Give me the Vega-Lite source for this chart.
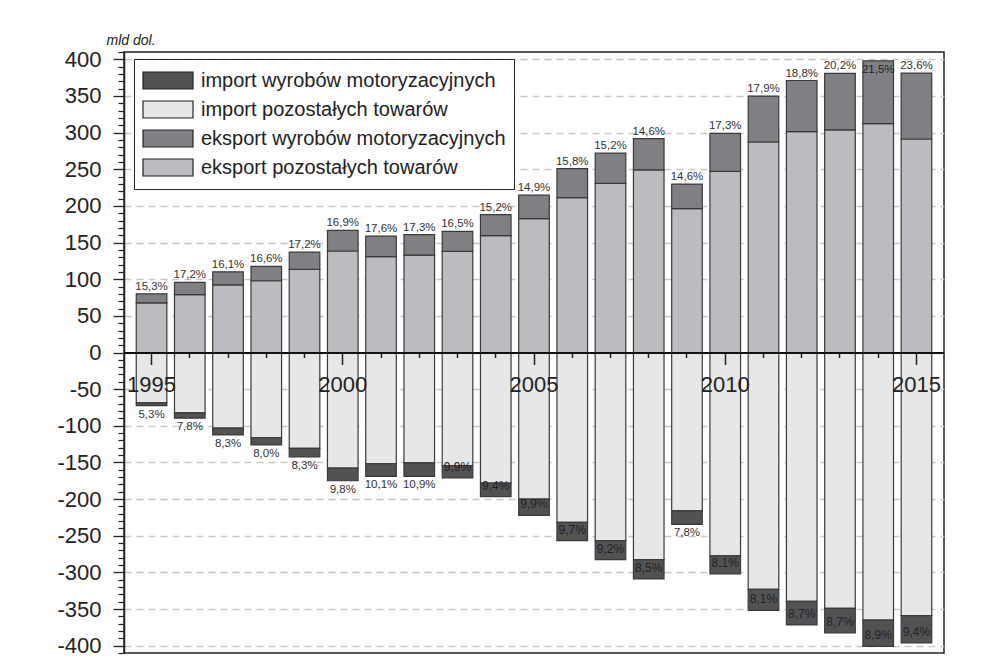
{
  "$schema": "https://vega.github.io/schema/vega-lite/v6.json",
  "width": 820,
  "height": 601,
  "autosize": "none",
  "padding": {"left": 124, "top": 52, "right": 39, "bottom": 19},
  "background": "white",
  "config": {
    "font": "Liberation Sans",
    "view": {"stroke": "#222", "strokeWidth": 1.5}
  },
  "data": {"name": "bars"},
  "datasets": {
    "bars": [
      {"year":1995,"side":"eksport","category":"eksport pozostałych towarów","value":67.8,"pct":""},
      {"year":1995,"side":"eksport","category":"eksport wyrobów motoryzacyjnych","value":12.3,"pct":"15,3%"},
      {"year":1995,"side":"import","category":"import pozostałych towarów","value":-68.6,"pct":""},
      {"year":1995,"side":"import","category":"import wyrobów motoryzacyjnych","value":-3.9,"pct":"5,3%"},
      {"year":1996,"side":"eksport","category":"eksport pozostałych towarów","value":79.1,"pct":""},
      {"year":1996,"side":"eksport","category":"eksport wyrobów motoryzacyjnych","value":16.5,"pct":"17,2%"},
      {"year":1996,"side":"import","category":"import pozostałych towarów","value":-82.5,"pct":""},
      {"year":1996,"side":"import","category":"import wyrobów motoryzacyjnych","value":-7.0,"pct":"7,8%"},
      {"year":1997,"side":"eksport","category":"eksport pozostałych towarów","value":92.4,"pct":""},
      {"year":1997,"side":"eksport","category":"eksport wyrobów motoryzacyjnych","value":17.7,"pct":"16,1%"},
      {"year":1997,"side":"import","category":"import pozostałych towarów","value":-103.2,"pct":""},
      {"year":1997,"side":"import","category":"import wyrobów motoryzacyjnych","value":-9.3,"pct":"8,3%"},
      {"year":1998,"side":"eksport","category":"eksport pozostałych towarów","value":97.9,"pct":""},
      {"year":1998,"side":"eksport","category":"eksport wyrobów motoryzacyjnych","value":19.5,"pct":"16,6%"},
      {"year":1998,"side":"import","category":"import pozostałych towarów","value":-116.0,"pct":""},
      {"year":1998,"side":"import","category":"import wyrobów motoryzacyjnych","value":-10.1,"pct":"8,0%"},
      {"year":1999,"side":"eksport","category":"eksport pozostałych towarów","value":113.4,"pct":""},
      {"year":1999,"side":"eksport","category":"eksport wyrobów motoryzacyjnych","value":23.6,"pct":"17,2%"},
      {"year":1999,"side":"import","category":"import pozostałych towarów","value":-130.7,"pct":""},
      {"year":1999,"side":"import","category":"import wyrobów motoryzacyjnych","value":-11.8,"pct":"8,3%"},
      {"year":2000,"side":"eksport","category":"eksport pozostałych towarów","value":138.5,"pct":""},
      {"year":2000,"side":"eksport","category":"eksport wyrobów motoryzacyjnych","value":28.1,"pct":"16,9%"},
      {"year":2000,"side":"import","category":"import pozostałych towarów","value":-157.8,"pct":""},
      {"year":2000,"side":"import","category":"import wyrobów motoryzacyjnych","value":-17.2,"pct":"9,8%"},
      {"year":2001,"side":"eksport","category":"eksport pozostałych towarów","value":130.8,"pct":""},
      {"year":2001,"side":"eksport","category":"eksport wyrobów motoryzacyjnych","value":28.0,"pct":"17,6%"},
      {"year":2001,"side":"import","category":"import pozostałych towarów","value":-151.8,"pct":""},
      {"year":2001,"side":"import","category":"import wyrobów motoryzacyjnych","value":-17.1,"pct":"10,1%"},
      {"year":2002,"side":"eksport","category":"eksport pozostałych towarów","value":132.9,"pct":""},
      {"year":2002,"side":"eksport","category":"eksport wyrobów motoryzacyjnych","value":27.8,"pct":"17,3%"},
      {"year":2002,"side":"import","category":"import pozostałych towarów","value":-150.5,"pct":""},
      {"year":2002,"side":"import","category":"import wyrobów motoryzacyjnych","value":-18.4,"pct":"10,9%"},
      {"year":2003,"side":"eksport","category":"eksport pozostałych towarów","value":137.9,"pct":""},
      {"year":2003,"side":"eksport","category":"eksport wyrobów motoryzacyjnych","value":27.3,"pct":"16,5%"},
      {"year":2003,"side":"import","category":"import pozostałych towarów","value":-154.2,"pct":""},
      {"year":2003,"side":"import","category":"import wyrobów motoryzacyjnych","value":-16.9,"pct":"9,9%"},
      {"year":2004,"side":"eksport","category":"eksport pozostałych towarów","value":159.4,"pct":""},
      {"year":2004,"side":"eksport","category":"eksport wyrobów motoryzacyjnych","value":28.6,"pct":"15,2%"},
      {"year":2004,"side":"import","category":"import pozostałych towarów","value":-178.1,"pct":""},
      {"year":2004,"side":"import","category":"import wyrobów motoryzacyjnych","value":-18.5,"pct":"9,4%"},
      {"year":2005,"side":"eksport","category":"eksport pozostałych towarów","value":182.7,"pct":""},
      {"year":2005,"side":"eksport","category":"eksport wyrobów motoryzacyjnych","value":32.0,"pct":"14,9%"},
      {"year":2005,"side":"import","category":"import pozostałych towarów","value":-200.1,"pct":""},
      {"year":2005,"side":"import","category":"import wyrobów motoryzacyjnych","value":-22.0,"pct":"9,9%"},
      {"year":2006,"side":"eksport","category":"eksport pozostałych towarów","value":211.2,"pct":""},
      {"year":2006,"side":"eksport","category":"eksport wyrobów motoryzacyjnych","value":39.6,"pct":"15,8%"},
      {"year":2006,"side":"import","category":"import pozostałych towarów","value":-231.8,"pct":""},
      {"year":2006,"side":"import","category":"import wyrobów motoryzacyjnych","value":-24.9,"pct":"9,7%"},
      {"year":2007,"side":"eksport","category":"eksport pozostałych towarów","value":230.8,"pct":""},
      {"year":2007,"side":"eksport","category":"eksport wyrobów motoryzacyjnych","value":41.3,"pct":"15,2%"},
      {"year":2007,"side":"import","category":"import pozostałych towarów","value":-256.6,"pct":""},
      {"year":2007,"side":"import","category":"import wyrobów motoryzacyjnych","value":-26.0,"pct":"9,2%"},
      {"year":2008,"side":"eksport","category":"eksport pozostałych towarów","value":249.1,"pct":""},
      {"year":2008,"side":"eksport","category":"eksport wyrobów motoryzacyjnych","value":42.6,"pct":"14,6%"},
      {"year":2008,"side":"import","category":"import pozostałych towarów","value":-282.6,"pct":""},
      {"year":2008,"side":"import","category":"import wyrobów motoryzacyjnych","value":-26.3,"pct":"8,5%"},
      {"year":2009,"side":"eksport","category":"eksport pozostałych towarów","value":196.3,"pct":""},
      {"year":2009,"side":"eksport","category":"eksport wyrobów motoryzacyjnych","value":33.5,"pct":"14,6%"},
      {"year":2009,"side":"import","category":"import pozostałych towarów","value":-216.1,"pct":""},
      {"year":2009,"side":"import","category":"import wyrobów motoryzacyjnych","value":-18.3,"pct":"7,8%"},
      {"year":2010,"side":"eksport","category":"eksport pozostałych towarów","value":247.2,"pct":""},
      {"year":2010,"side":"eksport","category":"eksport wyrobów motoryzacyjnych","value":51.8,"pct":"17,3%"},
      {"year":2010,"side":"import","category":"import pozostałych towarów","value":-277.6,"pct":""},
      {"year":2010,"side":"import","category":"import wyrobów motoryzacyjnych","value":-24.5,"pct":"8,1%"},
      {"year":2011,"side":"eksport","category":"eksport pozostałych towarów","value":287.2,"pct":""},
      {"year":2011,"side":"eksport","category":"eksport wyrobów motoryzacyjnych","value":62.6,"pct":"17,9%"},
      {"year":2011,"side":"import","category":"import pozostałych towarów","value":-323.3,"pct":""},
      {"year":2011,"side":"import","category":"import wyrobów motoryzacyjnych","value":-28.5,"pct":"8,1%"},
      {"year":2012,"side":"eksport","category":"eksport pozostałych towarów","value":301.4,"pct":""},
      {"year":2012,"side":"eksport","category":"eksport wyrobów motoryzacyjnych","value":69.7,"pct":"18,8%"},
      {"year":2012,"side":"import","category":"import pozostałych towarów","value":-339.4,"pct":""},
      {"year":2012,"side":"import","category":"import wyrobów motoryzacyjnych","value":-32.3,"pct":"8,7%"},
      {"year":2013,"side":"eksport","category":"eksport pozostałych towarów","value":303.8,"pct":""},
      {"year":2013,"side":"eksport","category":"eksport wyrobów motoryzacyjnych","value":76.9,"pct":"20,2%"},
      {"year":2013,"side":"import","category":"import pozostałych towarów","value":-349.2,"pct":""},
      {"year":2013,"side":"import","category":"import wyrobów motoryzacyjnych","value":-33.3,"pct":"8,7%"},
      {"year":2014,"side":"eksport","category":"eksport pozostałych towarów","value":312.4,"pct":""},
      {"year":2014,"side":"eksport","category":"eksport wyrobów motoryzacyjnych","value":85.6,"pct":"21,5%"},
      {"year":2014,"side":"import","category":"import pozostałych towarów","value":-365.2,"pct":""},
      {"year":2014,"side":"import","category":"import wyrobów motoryzacyjnych","value":-35.7,"pct":"8,9%"},
      {"year":2015,"side":"eksport","category":"eksport pozostałych towarów","value":291.3,"pct":""},
      {"year":2015,"side":"eksport","category":"eksport wyrobów motoryzacyjnych","value":90.0,"pct":"23,6%"},
      {"year":2015,"side":"import","category":"import pozostałych towarów","value":-359.0,"pct":""},
      {"year":2015,"side":"import","category":"import wyrobów motoryzacyjnych","value":-37.3,"pct":"9,4%"}
    ]
  },
  "encoding": {
    "x": {
      "field": "year",
      "type": "ordinal",
      "scale": {"paddingInner": 0.2, "paddingOuter": 0.32},
      "axis": {
        "orient": "bottom",
        "offset": -300.5,
        "title": null,
        "zindex": 1,
        "domainColor": "#111",
        "domainWidth": 2,
        "tickColor": "#222",
        "tickWidth": 1.5,
        "tickSize": {"condition": {"test": "datum.value % 5 === 0", "value": 12}, "value": 5},
        "labelExpr": "datum.value % 5 === 0 ? datum.label : ''",
        "labelAngle": 0,
        "labelFontSize": 22,
        "labelColor": "#222",
        "labelPadding": 10,
        "labelOverlap": false,
        "labelFlush": false,
        "grid": false
      }
    }
  },
  "layer": [
    {
      "mark": {"type": "bar", "stroke": "#3a3a3a", "strokeWidth": 1.2},
      "encoding": {
        "y": {
          "field": "value",
          "type": "quantitative",
          "stack": "zero",
          "scale": {"domain": [-410, 410], "nice": false, "zero": false},
          "axis": {
            "orient": "left",
            "values": [-400,-350,-300,-250,-200,-150,-100,-50,0,50,100,150,200,250,300,350,400],
            "labelExpr": "'' + datum.value",
            "labelFontSize": 22,
            "labelColor": "#222",
            "labelPadding": 12,
            "tickSize": 11,
            "tickColor": "#222",
            "tickWidth": 1.3,
            "domainColor": "#222",
            "domainWidth": 1.5,
            "grid": true,
            "gridColor": "#c8c8c8",
            "gridDash": [7, 5],
            "gridWidth": 1.3,
            "title": "mld dol.",
            "titleAngle": 0,
            "titleX": -18,
            "titleY": -5,
            "titleAlign": "left",
            "titleBaseline": "bottom",
            "titleFontStyle": "italic",
            "titleFontWeight": "normal",
            "titleFontSize": 14,
            "titleColor": "#222"
          }
        },
        "color": {
          "field": "category",
          "type": "nominal",
          "scale": {
            "domain": ["import wyrobów motoryzacyjnych", "import pozostałych towarów", "eksport wyrobów motoryzacyjnych", "eksport pozostałych towarów"],
            "range": ["#525254", "#e6e7e9", "#7f8084", "#bbbcbf"]
          },
          "legend": {
            "orient": "none",
            "legendX": 10,
            "legendY": 7,
            "title": null,
            "symbolType": "M-1,-0.34H1V0.34H-1Z",
            "symbolSize": 2500,
            "symbolStrokeColor": "#222",
            "symbolStrokeWidth": 1.2,
            "symbolOpacity": 1,
            "clipHeight": 27,
            "labelFontSize": 20,
            "labelColor": "#222",
            "labelOffset": 7,
            "labelLimit": 400,
            "rowPadding": 2,
            "padding": 8,
            "strokeColor": "#222",
            "fillColor": "white"
          }
        },
        "order": {"field": "category", "sort": "ascending"}
      }
    },
    {
      "transform": [
        {"joinaggregate": [{"op": "sum", "field": "value", "as": "total"}], "groupby": ["year", "side"]},
        {"filter": "datum.category === 'eksport wyrobów motoryzacyjnych' && datum.year !== 2014"}
      ],
      "mark": {"type": "text", "baseline": "bottom", "dy": -2, "color": "#333", "fontSize": 11.5},
      "encoding": {
        "y": {
          "field": "total",
          "type": "quantitative",
          "axis": {
            "orient": "left",
            "values": [-410,-390,-380,-370,-360,-340,-330,-320,-310,-290,-280,-270,-260,-240,-230,-220,-210,-190,-180,-170,-160,-140,-130,-120,-110,-90,-80,-70,-60,-40,-30,-20,-10,10,20,30,40,60,70,80,90,110,120,130,140,160,170,180,190,210,220,230,240,260,270,280,290,310,320,330,340,360,370,380,390,410],
            "labels": false,
            "domain": false,
            "grid": false,
            "title": null,
            "tickSize": 6,
            "tickColor": "#222",
            "tickWidth": 1.2
          }
        },
        "text": {"field": "pct"}
      }
    },
    {
      "transform": [
        {"joinaggregate": [{"op": "sum", "field": "value", "as": "total"}], "groupby": ["year", "side"]},
        {"filter": "datum.category === 'eksport wyrobów motoryzacyjnych' && datum.year === 2014"}
      ],
      "mark": {"type": "text", "baseline": "top", "dy": 3, "color": "#222", "fontSize": 11.5},
      "encoding": {
        "y": {"field": "total", "type": "quantitative", "axis": null},
        "text": {"field": "pct"}
      }
    },
    {
      "transform": [
        {"joinaggregate": [{"op": "sum", "field": "value", "as": "total"}], "groupby": ["year", "side"]},
        {"filter": "datum.category === 'import wyrobów motoryzacyjnych' && indexof([1995,1996,1997,1998,1999,2000,2001,2002,2009], datum.year) >= 0"}
      ],
      "mark": {"type": "text", "baseline": "top", "dy": 3, "color": "#333", "fontSize": 11.5},
      "encoding": {
        "y": {"field": "total", "type": "quantitative", "axis": null},
        "text": {"field": "pct"}
      }
    },
    {
      "transform": [
        {"joinaggregate": [{"op": "sum", "field": "value", "as": "total"}], "groupby": ["year", "side"]},
        {"filter": "datum.category === 'import wyrobów motoryzacyjnych' && indexof([1995,1996,1997,1998,1999,2000,2001,2002,2009], datum.year) < 0"}
      ],
      "mark": {"type": "text", "baseline": "bottom", "dy": -4, "color": "#222", "fontSize": 12},
      "encoding": {
        "y": {"field": "total", "type": "quantitative", "axis": null},
        "text": {"field": "pct"}
      }
    }
  ],
  "resolve": {"axis": {"y": "independent"}}
}
